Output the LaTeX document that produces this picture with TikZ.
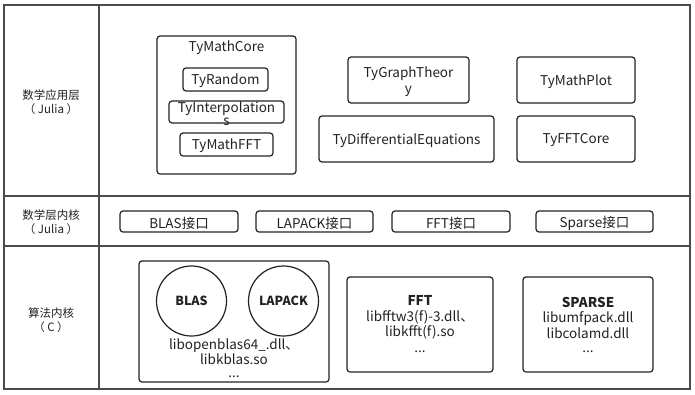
\documentclass[tikz,border=0pt]{standalone}
\usepackage{fontspec}
\setmainfont{Noto Sans CJK SC}
\definecolor{frame}{HTML}{4A4A4A}
\definecolor{ink}{HTML}{222222}
\begin{document}
\begin{tikzpicture}[x=1pt,y=-1pt,
  box/.style={draw=ink,line width=1.2pt,rounded corners=3pt,inner sep=0pt},
  txt/.style={font=\fontsize{13.5}{15.5}\selectfont,text=ink,align=center,inner sep=0pt,yshift=-1.5pt},
  lbl/.style={font=\fontsize{11.5}{14.5}\selectfont,text=ink,align=center,inner sep=0pt},
  circ/.style={draw=ink,line width=1.2pt,circle,minimum size=70pt,inner sep=0pt,font=\fontsize{12.5}{14}\selectfont\bfseries,text=ink}]
\useasboundingbox (0,0) rectangle (695,394);
\fill[white] (0,0) rectangle (695,394);
% frame
\draw[frame,line width=1.6pt] (4,5) rectangle (690,389);
\draw[frame,line width=1.6pt] (99,5) -- (99,389);
\draw[frame,line width=1.6pt] (4,196) -- (690,196);
\draw[frame,line width=1.6pt] (4,246) -- (690,246);
% row labels
\node[lbl] (l1) at (51,102) {数学应用层\\（ Julia ）};
\node[lbl] (l2) at (51,222) {数学层内核\\（ Julia ）};
\node[lbl] (l3) at (51,320) {算法内核\\（ C ）};
% layer 1
\draw[box] (157,36) rectangle (296,174);
\node[txt] (core) at (226.5,46) {TyMathCore};
\draw[box] (183,68) rectangle (268,91);
\node[txt] (rnd) at (225.5,79.5) {TyRandom};
\draw[box] (169,101) rectangle (284,123);
\node[txt] (interp) at (226.5,107) {TyInterpolation};
\node[txt] (interps) at (226.5,120) {s};
\draw[box] (180,133) rectangle (273,156);
\node[txt] (mfft) at (226.5,144.5) {TyMathFFT};
\draw[box] (348,57) rectangle (469,103);
\node[txt] (graph) at (408.5,80) {TyGraphTheor\\y};
\draw[box] (517,57) rectangle (635,103);
\node[txt] (plot) at (576,80) {TyMathPlot};
\draw[box] (319,116) rectangle (494,162);
\node[txt] (diff) at (406.5,139) {TyDifferentialEquations};
\draw[box] (517,116) rectangle (635,162);
\node[txt] (fftc) at (576,139) {TyFFTCore};
% layer 2
\draw[box] (120,211) rectangle (238,232);
\node[txt] (iblas) at (179,221.5) {BLAS接口};
\draw[box] (256,211) rectangle (373,232);
\node[txt] (ilapack) at (314.5,221.5) {LAPACK接口};
\draw[box] (392,211) rectangle (510,232);
\node[txt] (ifft) at (451,221.5) {FFT接口};
\draw[box] (536,211) rectangle (653,232);
\node[txt] (isparse) at (594.5,221.5) {Sparse接口};
% layer 3
\draw[box] (139,261) rectangle (329,382);
\node[circ] (blas) at (191.5,301) {BLAS};
\node[circ] (lapack) at (283.5,301) {LAPACK};
\node[txt] (blaslib) at (234,350) {libopenblas64\_.dll、\\libkblas.so};
\node[txt] (blasdots) at (234,375) {...};
\draw[box] (347,277) rectangle (493,372);
\node[txt,align=center] (fft) at (420,316) {\textbf{FFT}\\libfftw3(f)-3.dll、\\libkfft(f).so};
\node[txt] (fftdots) at (420,350) {...};
\draw[box] (523,277) rectangle (653,372);
\node[txt,align=center] (sparse) at (588,316) {\textbf{SPARSE}\\libumfpack.dll\\libcolamd.dll};
\node[txt] (sparsedots) at (588,350) {...};
\end{tikzpicture}
\end{document}
